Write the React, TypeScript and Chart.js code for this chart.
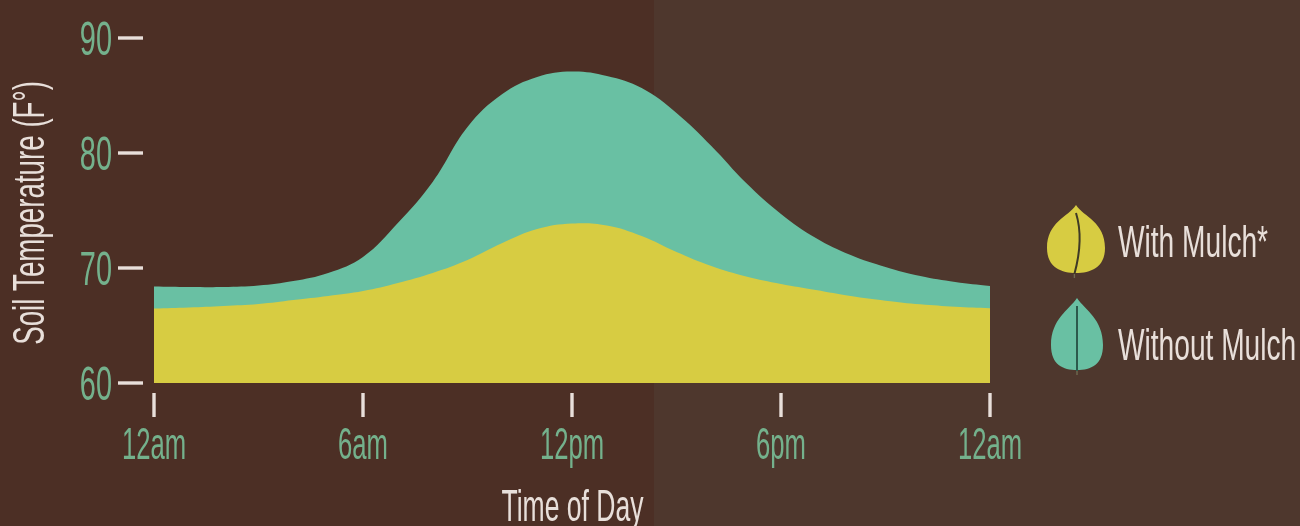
import React, { useEffect, useRef } from "react";
import { Chart, registerables } from "chart.js";

Chart.register(...registerables);

const hours = [0,1,2,3,4,5,6,7,8,9,10,11,12,13,14,15,16,17,18,19,20,21,22,23,24];
const withoutMulch = [68.39,68.35,68.35,68.48,68.87,69.57,70.96,73.91,77.48,82.26,85.13,86.61,87.09,86.7,85.65,83.48,80.61,77.39,74.7,72.61,71.13,70.09,69.3,68.78,68.43];
const withMulch = [66.48,66.57,66.7,66.87,67.22,67.57,68.0,68.7,69.57,70.7,72.17,73.39,73.87,73.7,72.78,71.39,70.17,69.26,68.61,68.09,67.57,67.16,66.84,66.63,66.5];
const xTickLabels = ["12am","6am","12pm","6pm","12am"];
const xTitle = "Time of Day";
const yTitle = "Soil Temperature (F\u00b0)";
const legendWith = "With Mulch*";
const legendWithout = "Without Mulch";

const TEAL = "#69c0a3";
const YELLOW = "#d7cc42";
const GREEN = "#74b18c";
const CREAM = "#e8dfda";
const FONT = '"Liberation Sans Narrow", "Liberation Sans", sans-serif';

function condensed(ctx: CanvasRenderingContext2D, text: string, x: number, y: number, size: number, sx: number, color: string, align: "left" | "center" | "right", rotate = 0) {
  ctx.save();
  ctx.translate(x, y);
  if (rotate) ctx.rotate(rotate);
  ctx.scale(sx, 1);
  ctx.font = `${size}px ${FONT}`;
  ctx.fillStyle = color;
  ctx.textAlign = align;
  ctx.textBaseline = "alphabetic";
  ctx.fillText(text, 0, 0);
  ctx.restore();
}

function leaf(ctx: CanvasRenderingContext2D, cx: number, tip: number, bottom: number, halfW: number, wideY: number, fill: string, bend: number, vein: string) {
  ctx.save();
  ctx.fillStyle = fill;
  ctx.beginPath();
  ctx.moveTo(cx, tip);
  ctx.bezierCurveTo(cx + 8, tip + 12, cx + halfW, wideY - 26, cx + halfW, wideY);
  ctx.bezierCurveTo(cx + halfW, bottom - 5, cx + 14, bottom, cx, bottom);
  ctx.bezierCurveTo(cx - 14, bottom, cx - halfW, bottom - 5, cx - halfW, wideY);
  ctx.bezierCurveTo(cx - halfW, wideY - 26, cx - 8, tip + 12, cx, tip);
  ctx.closePath();
  ctx.fill();
  ctx.strokeStyle = vein;
  ctx.lineWidth = 2;
  ctx.beginPath();
  ctx.moveTo(cx, tip + 8);
  ctx.quadraticCurveTo(cx + bend, (tip + bottom) / 2, cx - bend * 0.2, bottom + 1);
  ctx.stroke();
  ctx.strokeStyle = "#6f6a50";
  ctx.lineWidth = 1.4;
  ctx.beginPath();
  ctx.moveTo(cx - bend * 0.2, bottom + 1);
  ctx.lineTo(cx - bend * 0.2, bottom + 5);
  ctx.stroke();
  ctx.restore();
}

const decorations = {
  id: "decorations",
  afterDraw(chart: any) {
    const { ctx, scales } = chart;
    const x = scales.x;
    const y = scales.y;
    ctx.save();
    ctx.strokeStyle = CREAM;
    ctx.lineWidth = 3.4;
    y.ticks.forEach((t: any) => {
      const py = y.getPixelForValue(t.value);
      ctx.beginPath();
      ctx.moveTo(118, py);
      ctx.lineTo(143, py);
      ctx.stroke();
      condensed(ctx, t.label, 112, py + 17, 49, 0.59, GREEN, "right");
    });
    x.ticks.forEach((t: any) => {
      const px = x.getPixelForValue(t.value);
      ctx.beginPath();
      ctx.moveTo(px, 393);
      ctx.lineTo(px, 417);
      ctx.stroke();
      condensed(ctx, t.label, px, 459, 45, 0.57, GREEN, "center");
    });
    ctx.restore();
    condensed(ctx, xTitle, 572.5, 521, 45, 0.59, CREAM, "center");
    condensed(ctx, yTitle, 44, 213, 44, 0.63, CREAM, "center", -Math.PI / 2);
    leaf(ctx, 1076, 205, 273, 29, 248, YELLOW, 8, "#3f3a26");
    leaf(ctx, 1077, 298, 370, 26, 345, TEAL, 0, "#2c5a4c");
    condensed(ctx, legendWith, 1118, 257, 45, 0.625, CREAM, "left");
    condensed(ctx, legendWithout, 1118, 360, 45, 0.625, CREAM, "left");
  },
};

export default function App() {
  const ref = useRef<HTMLCanvasElement>(null);
  useEffect(() => {
    if (!ref.current) return;
    const toPoints = (vals: number[]) => vals.map((v, i) => ({ x: hours[i], y: v }));
    const chart = new Chart(ref.current, {
      type: "line",
      data: {
        datasets: [
          { label: legendWith, data: toPoints(withMulch), backgroundColor: YELLOW, borderWidth: 0, pointRadius: 0, fill: "origin", tension: 0.4, order: 1 },
          { label: legendWithout, data: toPoints(withoutMulch), backgroundColor: TEAL, borderWidth: 0, pointRadius: 0, fill: "origin", tension: 0.4, order: 2 },
        ],
      },
      options: {
        animation: false,
        responsive: false,
        devicePixelRatio: 1,
        layout: { padding: { top: 38, right: 310, left: 0, bottom: 0 } },
        plugins: { legend: { display: false }, title: { display: false }, tooltip: { enabled: false } },
        scales: {
          x: {
            type: "linear", min: 0, max: 24,
            afterFit: (s: any) => { s.height = 143; },
            grid: { display: false }, border: { display: false },
            ticks: { stepSize: 6, display: false, callback: (v: any) => xTickLabels[Number(v) / 6] },
          },
          y: {
            type: "linear", min: 60, max: 90,
            afterFit: (s: any) => { s.width = 154; },
            grid: { display: false }, border: { display: false },
            ticks: { stepSize: 10, display: false },
          },
        },
      } as any,
      plugins: [decorations],
    });
    return () => chart.destroy();
  }, []);
  return (
    <div style={{ position: "fixed", left: 0, top: 0, width: 1300, height: 526, overflow: "hidden", background: "linear-gradient(to right, #4c2f25 0, #4c2f25 654px, #4e372d 654px, #4e372d 100%)" }}>
      <canvas ref={ref} width={1300} height={526} style={{ display: "block", filter: "blur(0.6px)" }} />
    </div>
  );
}
